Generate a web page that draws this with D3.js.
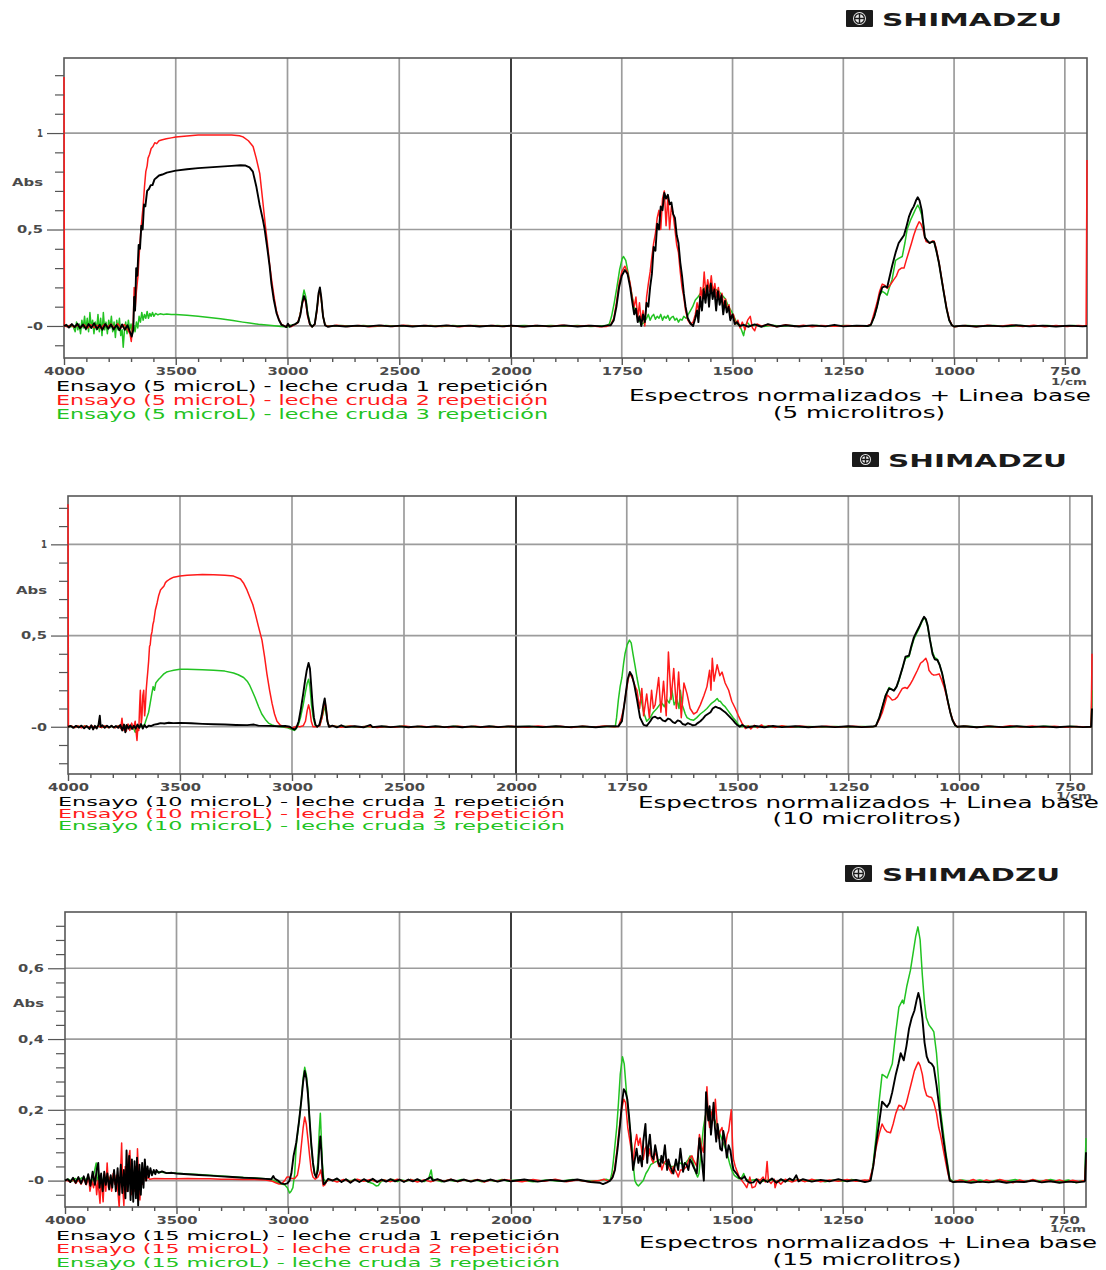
<!DOCTYPE html>
<html>
<head>
<meta charset="utf-8">
<script src="https://cdn.jsdelivr.net/npm/d3@7"></script>
<style>
  body { margin: 0; background: #fff; }
  svg { display: block; }
</style>
</head>
<body>
<svg id="chart" width="1106" height="1270"></svg>
<script>
// ---------------------------------------------------------------------------
// FTIR spectra, normalised + baseline corrected, [wavenumber (1/cm), Abs]
// ---------------------------------------------------------------------------

// ---- 5 microlitros ----
const p1BlackHigh = [
  [4000,0],[3990,0.006],[3978,-0.008],[3965,0.01],[3952,-0.006],[3940,0.012],[3928,-0.012],[3915,0.008],
  [3902,-0.015],[3890,0.01],[3878,-0.01],[3865,0.014],[3852,-0.016],[3840,0.006],[3828,-0.02],[3815,0.01],
  [3802,-0.014],[3790,0.008],[3778,-0.018],[3765,0.005],[3752,-0.022],[3740,0.008],[3728,-0.02],[3716,0.004],
  [3705,-0.03],[3697,-0.055],[3690,-0.02],[3686,0.15],[3682,0.08],[3677,0.3],[3672,0.26],[3666,0.42],
  [3660,0.4],[3654,0.52],[3648,0.5],[3642,0.63],[3636,0.62],[3628,0.7],[3620,0.71],[3612,0.73],[3604,0.73],
  [3595,0.76],[3585,0.77],[3575,0.78],[3560,0.785],[3540,0.795],[3520,0.8],[3500,0.805],[3450,0.812],
  [3400,0.818],[3350,0.822],[3300,0.826],[3250,0.83],[3210,0.833],[3190,0.832],[3170,0.822],[3155,0.8],
  [3139,0.72],[3125,0.63],[3110,0.55],[3102,0.5],[3090,0.4],[3080,0.31],[3072,0.22],[3062,0.14],[3049,0.066],
  [3038,0.03],[3027,0.006],[3015,0],[3005,-0.006],[2998,0.012],[2990,-0.004],[2978,0.004],[2965,0.01],
  [2952,0.02],[2942,0.06],[2934,0.12],[2926,0.155],[2918,0.13],[2910,0.06],[2900,0.01],[2890,-0.004],
  [2878,0.01],[2868,0.09],[2861,0.17],[2855,0.2],[2849,0.15],[2841,0.05],[2832,0.004],[2820,-0.004],
  [2790,0.002],[2740,-0.003],[2690,0.002],[2640,-0.002],[2590,0.003],[2540,-0.002],[2490,0.002],[2440,-0.003],
  [2390,0.002],[2340,-0.002],[2290,0.003],[2240,-0.002],[2190,0.002],[2140,-0.003],[2090,0.002],[2040,-0.002],[2000,0.002]
];
const p1BlackLow = [
  [1970,-0.003],[1940,0.002],[1910,-0.002],[1880,0.003],[1850,-0.003],[1820,0.002],[1795,-0.002],[1782,0.003],
  [1775,0.004],[1768,0.03],[1762,0.1],[1756,0.2],[1750,0.26],[1743,0.29],[1737,0.27],[1731,0.2],[1726,0.12],
  [1722,0.06],[1718,0.09],[1714,0.02],[1710,0.05],[1706,0.0],[1702,0.06],[1698,0.02],[1694,0.12],[1690,0.1],
  [1686,0.2],[1682,0.27],[1678,0.41],[1674,0.39],[1670,0.53],[1666,0.5],[1662,0.62],[1658,0.6],[1654,0.69],
  [1650,0.66],[1646,0.68],[1642,0.63],[1638,0.64],[1634,0.58],[1630,0.56],[1626,0.47],[1622,0.43],[1618,0.33],
  [1614,0.26],[1610,0.17],[1606,0.1],[1601,0.04],[1595,0.013],[1589,0.0],[1584,0.04],[1580,0.08],[1577,0.02],
  [1573,0.15],[1569,0.08],[1565,0.19],[1561,0.12],[1557,0.21],[1553,0.1],[1549,0.22],[1545,0.14],[1541,0.19],
  [1537,0.08],[1533,0.18],[1529,0.11],[1525,0.16],[1521,0.06],[1517,0.13],[1513,0.07],[1509,0.1],[1505,0.03],
  [1500,0.06],[1495,0.01],[1490,0.02],[1484,0.0],[1475,0.006],[1465,-0.004],[1450,0.008],[1435,-0.004],
  [1420,0.01],[1400,-0.003],[1380,0.004],[1350,-0.003],[1320,0.003],[1290,-0.002],[1270,0.006],[1250,-0.002],
  [1220,0.002],[1195,0],[1188,0.005],[1180,0.05],[1174,0.1],[1168,0.16],[1162,0.2],[1156,0.205],[1151,0.2],
  [1146,0.25],[1140,0.31],[1132,0.38],[1125,0.43],[1119,0.45],[1113,0.47],[1107,0.52],[1102,0.565],[1096,0.6],
  [1091,0.62],[1086,0.65],[1082,0.667],[1078,0.65],[1073,0.6],[1069,0.52],[1066,0.46],[1060,0.44],[1055,0.43],
  [1049,0.437],[1045,0.435],[1040,0.39],[1034,0.325],[1028,0.24],[1023,0.17],[1017,0.09],[1011,0.03],
  [1005,0.004],[1000,-0.003],[980,0.002],[950,-0.003],[920,0.002],[890,-0.002],[860,0.004],[830,-0.002],
  [800,0.002],[770,-0.003],[740,0.002],[710,-0.002],[700,0]
];
const p1RedHigh = [
  [4000,1.29],[3998,0.0],[3985,-0.004],[3970,0.006],[3955,-0.006],[3940,0.004],[3925,-0.008],[3910,0.006],
  [3895,-0.01],[3880,0.006],[3865,-0.008],[3850,0.004],[3835,-0.012],[3820,0.008],[3805,-0.006],[3790,0.01],
  [3775,-0.01],[3760,0.012],[3745,-0.01],[3730,0.008],[3715,-0.02],[3705,-0.04],[3699,-0.08],[3694,-0.01],
  [3690,0.02],[3686,0.2],[3682,0.08],[3676,0.18],[3669,0.26],[3663,0.38],[3657,0.48],[3651,0.56],[3646,0.62],
  [3640,0.72],[3634,0.8],[3628,0.83],[3624,0.87],[3617,0.89],[3610,0.92],[3602,0.93],[3594,0.95],[3585,0.945],
  [3575,0.96],[3560,0.965],[3542,0.97],[3520,0.975],[3500,0.98],[3450,0.985],[3400,0.99],[3350,0.99],
  [3300,0.99],[3250,0.99],[3215,0.986],[3199,0.98],[3175,0.96],[3154,0.93],[3140,0.87],[3124,0.79],[3110,0.64],
  [3100,0.53],[3090,0.43],[3080,0.32],[3070,0.23],[3060,0.15],[3050,0.08],[3040,0.04],[3028,0.01],[3015,0.0],
  [3005,-0.004],[2995,0.006],[2985,-0.004],[2970,0.006],[2955,0.015],[2945,0.05],[2935,0.11],[2926,0.15],
  [2918,0.12],[2910,0.05],[2900,0.008],[2890,-0.004],[2878,0.008],[2868,0.08],[2861,0.16],[2855,0.19],
  [2849,0.14],[2841,0.05],[2832,0.004],[2815,-0.003],[2780,0.004],[2730,-0.003],[2680,0.003],[2630,-0.004],
  [2580,0.002],[2530,-0.003],[2480,0.004],[2430,-0.002],[2380,0.003],[2330,-0.003],[2280,0.002],[2230,-0.004],
  [2180,0.003],[2130,-0.002],[2080,0.003],[2030,-0.003],[2000,0.002]
];
const p1RedLow = [
  [1975,-0.004],[1945,0.003],[1915,-0.003],[1885,0.004],[1855,-0.002],[1825,0.003],[1800,-0.004],[1785,-0.003],
  [1775,0.006],[1768,0.04],[1762,0.12],[1756,0.22],[1750,0.28],[1743,0.31],[1737,0.28],[1731,0.22],[1726,0.14],
  [1722,0.1],[1718,0.15],[1714,0.04],[1710,0.12],[1706,0.02],[1702,0.08],[1698,0.0],[1694,0.15],[1690,0.22],
  [1686,0.28],[1682,0.36],[1678,0.43],[1674,0.48],[1670,0.56],[1666,0.6],[1662,0.5],[1658,0.66],[1654,0.7],
  [1650,0.52],[1646,0.67],[1642,0.5],[1638,0.62],[1634,0.58],[1630,0.5],[1626,0.42],[1622,0.38],[1618,0.28],
  [1614,0.2],[1610,0.15],[1606,0.08],[1601,0.03],[1595,0.01],[1589,0.02],[1584,0.06],[1580,0.12],[1576,0.07],
  [1572,0.2],[1568,0.14],[1564,0.28],[1560,0.16],[1556,0.24],[1552,0.18],[1548,0.26],[1544,0.17],[1540,0.22],
  [1536,0.15],[1532,0.2],[1528,0.13],[1524,0.17],[1520,0.1],[1516,0.14],[1512,0.08],[1508,0.11],[1503,0.04],
  [1498,0.06],[1493,0.01],[1488,0.03],[1483,-0.01],[1478,0.02],[1472,-0.02],[1466,0.03],[1460,0.05],
  [1455,-0.01],[1450,-0.025],[1445,0.01],[1435,0.0],[1420,0.006],[1400,-0.004],[1380,0.006],[1360,-0.003],
  [1340,0.004],[1320,-0.004],[1300,0.003],[1270,-0.002],[1240,0.002],[1210,-0.002],[1195,0.002],[1188,0.006],
  [1180,0.07],[1174,0.12],[1168,0.18],[1162,0.217],[1156,0.21],[1151,0.195],[1145,0.21],[1136,0.24],
  [1130,0.26],[1125,0.29],[1119,0.3],[1113,0.3],[1108,0.34],[1102,0.385],[1096,0.43],[1091,0.47],[1085,0.51],
  [1079,0.54],[1075,0.53],[1070,0.5],[1066,0.46],[1063,0.437],[1055,0.43],[1049,0.44],[1045,0.44],[1040,0.4],
  [1034,0.33],[1028,0.245],[1023,0.175],[1017,0.095],[1011,0.035],[1005,0.005],[1000,-0.004],[975,0.003],
  [950,-0.004],[925,0.004],[900,-0.002],[870,0.005],[845,-0.003],[820,0.004],[795,-0.004],[770,0.003],
  [745,-0.003],[720,0.002],[702,0],[700,0.86]
];
const p1GreenHigh = [
  [4000,0],[3985,0.003],[3970,-0.004],[3960,0.0],[3950,-0.03],[3944,0.02],[3938,-0.02],[3932,0.01],[3926,-0.04],
  [3920,0.03],[3914,-0.01],[3908,0.05],[3902,-0.02],[3896,0.04],[3890,-0.03],[3884,0.07],[3878,-0.01],
  [3872,0.03],[3866,-0.04],[3860,0.02],[3854,-0.02],[3848,0.06],[3842,-0.03],[3836,0.04],[3830,-0.05],
  [3824,0.07],[3818,-0.02],[3812,0.02],[3806,-0.04],[3800,0.03],[3794,-0.01],[3788,0.05],[3782,-0.03],
  [3776,0.02],[3770,-0.06],[3764,0.03],[3758,-0.02],[3752,0.04],[3746,-0.05],[3740,-0.02],[3735,-0.11],
  [3730,-0.03],[3724,0.02],[3718,-0.04],[3712,0.03],[3706,-0.02],[3700,0.01],[3694,-0.04],[3688,0.0],
  [3682,-0.03],[3676,0.02],[3670,-0.01],[3664,0.05],[3658,0.02],[3652,0.07],[3646,0.03],[3640,0.06],
  [3634,0.04],[3628,0.075],[3622,0.04],[3616,0.065],[3610,0.05],[3604,0.07],[3598,0.05],[3590,0.065],
  [3580,0.058],[3570,0.063],[3555,0.06],[3540,0.062],[3520,0.06],[3500,0.06],[3450,0.055],[3400,0.05],
  [3350,0.044],[3300,0.038],[3244,0.028],[3200,0.02],[3170,0.015],[3130,0.009],[3094,0.005],[3060,0.001],
  [3030,-0.003],[3010,-0.004],[3000,-0.006],[2990,0.004],[2975,0.004],[2962,0.012],[2950,0.025],[2940,0.08],
  [2932,0.15],[2926,0.186],[2918,0.15],[2910,0.07],[2900,0.015],[2890,-0.005],[2878,0.01],[2868,0.09],
  [2861,0.16],[2855,0.185],[2849,0.14],[2841,0.05],[2832,0.004],[2810,-0.002],[2760,0.003],[2710,-0.002],
  [2660,0.002],[2610,-0.003],[2560,0.002],[2510,-0.002],[2460,0.003],[2410,-0.002],[2360,0.002],[2310,-0.003],
  [2260,0.002],[2210,-0.002],[2160,0.003],[2110,-0.002],[2060,0.002],[2010,-0.002],[2000,0.0]
];
const p1GreenLow = [
  [1970,0.002],[1940,-0.002],[1910,0.003],[1880,-0.002],[1850,0.002],[1820,-0.003],[1800,0.0],[1785,0.002],
  [1778,0.01],[1773,0.05],[1767,0.12],[1761,0.2],[1755,0.29],[1749,0.35],[1746,0.36],[1741,0.34],[1736,0.28],
  [1731,0.21],[1727,0.16],[1722,0.1],[1716,0.06],[1712,0.03],[1708,0.02],[1703,0.01],[1699,0.02],[1694,0.04],
  [1690,0.06],[1686,0.03],[1682,0.05],[1678,0.06],[1674,0.035],[1670,0.05],[1666,0.04],[1662,0.06],[1658,0.03],
  [1654,0.05],[1650,0.04],[1646,0.055],[1642,0.03],[1638,0.045],[1634,0.05],[1630,0.03],[1626,0.04],
  [1622,0.02],[1618,0.035],[1614,0.03],[1610,0.05],[1605,0.04],[1600,0.06],[1595,0.08],[1590,0.1],[1584,0.135],
  [1578,0.15],[1572,0.17],[1566,0.19],[1561,0.2],[1555,0.2],[1549,0.21],[1544,0.2],[1538,0.19],[1531,0.18],
  [1524,0.16],[1516,0.14],[1509,0.1],[1501,0.07],[1495,0.04],[1490,0.01],[1484,0.005],[1480,-0.02],
  [1475,-0.05],[1471,0.0],[1467,0.02],[1460,0.0],[1450,0.005],[1430,-0.003],[1410,0.004],[1390,-0.002],
  [1370,0.003],[1340,-0.002],[1310,0.002],[1280,-0.002],[1250,0.002],[1220,-0.002],[1195,0.0],[1188,0.004],
  [1180,0.05],[1174,0.1],[1168,0.16],[1162,0.18],[1156,0.17],[1151,0.16],[1146,0.2],[1140,0.24],[1132,0.34],
  [1125,0.35],[1117,0.36],[1111,0.43],[1106,0.5],[1098,0.55],[1091,0.585],[1086,0.61],[1082,0.627],
  [1078,0.61],[1073,0.575],[1069,0.52],[1066,0.46],[1060,0.44],[1055,0.43],[1049,0.437],[1045,0.435],
  [1040,0.39],[1034,0.325],[1028,0.24],[1023,0.17],[1017,0.09],[1011,0.03],[1005,0.004],[1000,-0.003],
  [970,0.002],[940,-0.002],[910,0.002],[880,-0.003],[850,0.002],[820,-0.002],[790,0.003],[760,-0.002],
  [730,0.002],[705,-0.002],[700,0]
];

// ---- 10 microlitros ----
const p2BlackHigh = [
  [4000,0],[3988,0.004],[3976,-0.006],[3964,0.005],[3952,-0.004],[3940,0.006],[3928,-0.008],[3916,0.004],
  [3904,-0.012],[3896,0.008],[3888,-0.015],[3880,0.005],[3872,-0.01],[3864,0.01],[3858,0.06],[3854,0.0],
  [3846,0.008],[3836,-0.006],[3826,0.006],[3816,-0.004],[3806,0.005],[3796,-0.004],[3786,0.004],[3776,-0.006],
  [3766,0.01],[3758,-0.02],[3750,0.012],[3744,-0.03],[3738,0.01],[3730,-0.01],[3722,0.008],[3714,-0.012],
  [3706,0.006],[3698,-0.01],[3690,0.012],[3682,-0.006],[3674,0.015],[3666,-0.01],[3658,0.01],[3650,-0.004],
  [3640,0.006],[3630,0.004],[3615,0.012],[3600,0.015],[3587,0.02],[3570,0.018],[3550,0.022],[3530,0.02],
  [3500,0.021],[3450,0.019],[3400,0.016],[3350,0.014],[3300,0.012],[3250,0.01],[3200,0.009],[3170,0.012],
  [3150,0.006],[3100,0.005],[3060,0.003],[3030,0.004],[3010,0.0],[2996,-0.012],[2988,-0.015],[2980,-0.005],
  [2970,0.03],[2960,0.1],[2950,0.18],[2942,0.25],[2934,0.31],[2926,0.35],[2920,0.32],[2914,0.22],[2908,0.12],
  [2902,0.05],[2895,0.01],[2888,0.0],[2878,0.01],[2868,0.06],[2860,0.12],[2854,0.155],[2848,0.1],[2842,0.03],
  [2835,0.0],[2820,0.006],[2800,-0.003],[2780,0.008],[2760,-0.002],[2720,0.003],[2680,-0.003],[2650,0.01],
  [2640,-0.002],[2600,0.003],[2560,-0.002],[2520,0.002],[2480,-0.003],[2440,0.002],[2400,-0.002],[2360,0.003],
  [2320,-0.002],[2280,0.002],[2240,-0.003],[2200,0.002],[2160,-0.002],[2120,0.003],[2080,-0.002],[2040,0.002],[2000,0.0]
];
const p2BlackLow = [
  [1970,0.002],[1940,-0.002],[1910,0.003],[1880,-0.002],[1850,0.002],[1820,-0.003],[1795,0.002],[1780,0.003],
  [1769,0.002],[1761,0.03],[1754,0.15],[1748,0.26],[1743,0.3],[1738,0.28],[1733,0.23],[1727,0.15],[1720,0.05],
  [1712,0.01],[1705,0.005],[1697,0.03],[1692,0.05],[1686,0.055],[1680,0.045],[1675,0.05],[1669,0.035],
  [1663,0.03],[1657,0.045],[1652,0.04],[1646,0.025],[1641,0.02],[1635,0.035],[1629,0.03],[1624,0.015],
  [1618,0.01],[1612,0.02],[1607,0.015],[1601,0.008],[1595,0.01],[1590,0.02],[1584,0.03],[1578,0.045],
  [1573,0.06],[1567,0.07],[1561,0.08],[1556,0.1],[1550,0.11],[1545,0.105],[1539,0.1],[1534,0.09],[1528,0.08],
  [1522,0.065],[1516,0.05],[1510,0.035],[1505,0.02],[1500,0.008],[1495,0.0],[1490,0.01],[1480,-0.004],
  [1460,0.004],[1440,-0.003],[1420,0.004],[1400,-0.002],[1370,0.003],[1340,-0.003],[1310,0.002],[1280,-0.002],
  [1250,0.003],[1220,-0.002],[1195,0.001],[1188,0.004],[1180,0.05],[1173,0.11],[1166,0.17],[1158,0.21],
  [1152,0.205],[1147,0.197],[1141,0.22],[1136,0.256],[1128,0.32],[1121,0.384],[1113,0.39],[1108,0.44],
  [1102,0.49],[1096,0.52],[1090,0.548],[1084,0.58],[1079,0.603],[1075,0.59],[1071,0.557],[1066,0.48],
  [1060,0.4],[1055,0.37],[1049,0.366],[1044,0.34],[1038,0.29],[1032,0.22],[1026,0.146],[1020,0.08],
  [1015,0.037],[1009,0.008],[1004,0.0],[990,0.003],[960,-0.003],[930,0.002],[900,-0.002],[870,0.003],
  [840,-0.002],[810,0.002],[780,-0.003],[750,0.002],[720,-0.002],[702,0],[700,0.1]
];
const p2RedHigh = [
  [4000,1.22],[3998,0.0],[3985,0.004],[3970,-0.005],[3955,0.004],[3940,-0.006],[3925,0.005],[3910,-0.004],
  [3895,0.006],[3880,-0.006],[3865,0.004],[3850,-0.004],[3835,0.005],[3820,-0.005],[3805,0.004],[3790,-0.006],
  [3775,0.005],[3765,-0.01],[3759,0.047],[3754,-0.02],[3748,0.01],[3740,-0.025],[3732,0.015],[3724,-0.02],
  [3716,0.02],[3708,-0.01],[3700,0.03],[3695,-0.04],[3692,-0.075],[3688,0.0],[3684,-0.02],[3680,0.12],
  [3677,0.2],[3673,0.02],[3670,0.05],[3666,0.17],[3662,0.2],[3658,0.06],[3655,0.1],[3651,0.2],[3647,0.26],
  [3644,0.3],[3640,0.36],[3636,0.44],[3633,0.45],[3629,0.5],[3625,0.52],[3621,0.56],[3617,0.58],[3610,0.64],
  [3602,0.68],[3595,0.72],[3587,0.75],[3580,0.76],[3572,0.77],[3565,0.79],[3557,0.8],[3545,0.81],[3528,0.82],
  [3500,0.826],[3468,0.83],[3400,0.835],[3350,0.833],[3300,0.83],[3261,0.826],[3230,0.81],[3215,0.785],
  [3201,0.75],[3185,0.7],[3175,0.67],[3164,0.62],[3150,0.55],[3134,0.475],[3122,0.38],[3112,0.29],[3100,0.2],
  [3089,0.128],[3078,0.07],[3067,0.03],[3055,0.012],[3045,0.005],[3030,0.0],[3010,-0.004],[2995,-0.006],
  [2980,0.003],[2965,0.0],[2950,0.005],[2940,0.03],[2932,0.09],[2926,0.12],[2920,0.09],[2914,0.03],[2906,0.0],
  [2890,0.0],[2876,0.005],[2866,0.05],[2858,0.11],[2853,0.14],[2847,0.09],[2840,0.02],[2832,0.0],[2815,0.004],
  [2780,-0.003],[2740,0.004],[2700,-0.002],[2660,0.003],[2620,-0.004],[2580,0.002],[2540,-0.003],[2500,0.004],
  [2460,-0.002],[2420,0.003],[2380,-0.003],[2340,0.002],[2300,-0.004],[2260,0.003],[2220,-0.002],[2180,0.003],
  [2140,-0.003],[2100,0.002],[2060,-0.002],[2020,0.003],[2000,0.0]
];
const p2RedLow = [
  [1975,-0.003],[1950,0.004],[1925,-0.002],[1900,0.003],[1875,-0.004],[1850,0.003],[1825,-0.002],[1800,0.004],
  [1780,0.0],[1769,0.002],[1762,0.05],[1757,0.1],[1751,0.2],[1746,0.27],[1743,0.29],[1738,0.27],[1735,0.25],
  [1731,0.22],[1727,0.2],[1721,0.1],[1716,0.21],[1712,0.06],[1705,0.18],[1699,0.05],[1694,0.2],[1690,0.1],
  [1686,0.12],[1678,0.27],[1673,0.08],[1667,0.25],[1661,0.06],[1656,0.41],[1650,0.15],[1644,0.32],[1638,0.1],
  [1633,0.3],[1627,0.05],[1621,0.24],[1614,0.18],[1607,0.1],[1599,0.07],[1592,0.08],[1584,0.12],[1576,0.17],
  [1569,0.22],[1563,0.31],[1560,0.2],[1557,0.375],[1553,0.25],[1546,0.34],[1540,0.28],[1535,0.3],[1528,0.24],
  [1520,0.2],[1513,0.14],[1505,0.1],[1498,0.06],[1490,0.02],[1482,-0.01],[1476,0.005],[1470,-0.012],
  [1462,0.008],[1455,-0.006],[1446,0.01],[1438,-0.004],[1430,0.006],[1415,-0.004],[1400,0.005],[1380,-0.003],
  [1360,0.004],[1330,-0.003],[1300,0.003],[1270,-0.002],[1240,0.003],[1210,-0.002],[1193,0.002],[1188,0.004],
  [1180,0.04],[1173,0.08],[1167,0.13],[1162,0.174],[1156,0.16],[1151,0.146],[1145,0.15],[1139,0.164],
  [1133,0.19],[1128,0.21],[1122,0.215],[1117,0.21],[1111,0.23],[1105,0.256],[1100,0.28],[1094,0.31],
  [1087,0.348],[1081,0.36],[1075,0.375],[1071,0.35],[1068,0.31],[1062,0.29],[1057,0.283],[1051,0.285],
  [1045,0.29],[1040,0.26],[1034,0.22],[1028,0.165],[1023,0.11],[1018,0.065],[1013,0.03],[1008,0.01],[1004,0.0],
  [985,0.003],[960,-0.004],[935,0.004],[910,-0.003],[885,0.005],[860,-0.002],[835,0.004],[810,-0.003],
  [785,0.003],[760,-0.003],[735,0.002],[710,-0.002],[702,0],[700,0.4]
];
const p2GreenHigh = [
  [4000,0],[3985,0.003],[3970,-0.004],[3955,0.003],[3940,-0.003],[3925,0.004],[3910,-0.004],[3895,0.003],
  [3880,-0.003],[3865,0.004],[3850,-0.004],[3835,0.003],[3820,-0.004],[3805,0.003],[3790,-0.005],[3775,0.004],
  [3760,-0.006],[3745,0.005],[3730,-0.008],[3715,0.004],[3705,-0.015],[3700,-0.03],[3695,-0.01],[3688,0.005],
  [3680,-0.005],[3672,0.01],[3664,0.0],[3656,0.02],[3648,0.05],[3640,0.08],[3633,0.13],[3626,0.18],[3620,0.22],
  [3614,0.2],[3608,0.24],[3602,0.25],[3595,0.26],[3587,0.27],[3580,0.28],[3572,0.29],[3560,0.3],[3545,0.305],
  [3528,0.31],[3500,0.315],[3468,0.315],[3400,0.312],[3350,0.31],[3300,0.305],[3261,0.295],[3240,0.285],
  [3216,0.27],[3200,0.25],[3190,0.23],[3179,0.2],[3165,0.16],[3149,0.11],[3135,0.07],[3119,0.04],[3105,0.02],
  [3089,0.01],[3070,0.003],[3050,0.0],[3020,-0.006],[3000,-0.015],[2990,-0.02],[2982,-0.012],[2972,0.01],
  [2962,0.05],[2950,0.12],[2940,0.19],[2932,0.24],[2926,0.26],[2920,0.22],[2913,0.12],[2905,0.05],[2897,0.01],
  [2888,0.0],[2876,0.01],[2866,0.05],[2858,0.09],[2853,0.11],[2847,0.07],[2840,0.02],[2832,0.0],[2815,0.004],
  [2790,0.0],[2750,0.003],[2710,-0.002],[2670,0.002],[2630,-0.003],[2590,0.002],[2550,-0.002],[2510,0.003],
  [2470,-0.002],[2430,0.002],[2390,-0.003],[2350,0.002],[2310,-0.002],[2270,0.003],[2230,-0.002],[2190,0.002],
  [2150,-0.003],[2110,0.002],[2070,-0.002],[2030,0.002],[2000,0.0]
];
const p2GreenLow = [
  [1970,0.002],[1940,-0.002],[1910,0.002],[1880,-0.003],[1850,0.002],[1820,-0.002],[1795,0.003],[1785,0.002],
  [1776,0.0],[1773,0.05],[1769,0.146],[1765,0.22],[1761,0.27],[1757,0.35],[1754,0.4],[1749,0.45],[1744,0.475],
  [1740,0.46],[1736,0.4],[1731,0.33],[1727,0.27],[1720,0.18],[1712,0.08],[1705,0.03],[1697,0.05],[1690,0.08],
  [1682,0.1],[1676,0.12],[1671,0.13],[1665,0.11],[1660,0.15],[1654,0.13],[1648,0.2],[1643,0.12],[1637,0.15],
  [1632,0.1],[1629,0.2],[1625,0.12],[1622,0.1],[1618,0.07],[1614,0.05],[1607,0.04],[1599,0.036],[1592,0.05],
  [1584,0.07],[1576,0.085],[1569,0.1],[1562,0.12],[1558,0.13],[1552,0.14],[1546,0.155],[1542,0.14],
  [1539,0.14],[1533,0.12],[1528,0.11],[1522,0.09],[1516,0.07],[1510,0.05],[1505,0.036],[1498,0.01],[1490,0.0],
  [1480,0.004],[1460,-0.002],[1440,0.003],[1420,-0.002],[1400,0.003],[1370,-0.002],[1340,0.002],[1310,-0.002],
  [1280,0.002],[1250,-0.002],[1220,0.002],[1195,0.0],[1188,0.004],[1180,0.05],[1173,0.11],[1166,0.17],
  [1158,0.215],[1152,0.205],[1147,0.2],[1141,0.22],[1136,0.25],[1128,0.32],[1121,0.375],[1113,0.385],
  [1108,0.43],[1102,0.48],[1096,0.51],[1090,0.54],[1084,0.575],[1079,0.598],[1075,0.585],[1071,0.55],
  [1066,0.48],[1060,0.41],[1055,0.38],[1049,0.37],[1044,0.34],[1038,0.29],[1032,0.22],[1026,0.15],
  [1020,0.082],[1015,0.038],[1009,0.008],[1004,0.0],[985,0.003],[955,-0.002],[925,0.002],[895,-0.003],
  [865,0.002],[835,-0.002],[805,0.003],[775,-0.002],[745,0.002],[715,-0.002],[702,0],[700,0.2]
];

// ---- 15 microlitros ----
const p3BlackHigh = [
  [4000,0],[3988,0.004],[3976,-0.004],[3964,0.008],[3952,-0.006],[3940,0.01],[3928,-0.008],[3916,0.012],
  [3906,-0.01],[3896,0.018],[3886,-0.015],[3876,0.025],[3866,-0.012],[3858,0.03],[3851,0.05],[3845,-0.02],
  [3838,0.02],[3831,-0.03],[3824,0.025],[3817,-0.012],[3810,0.02],[3802,-0.025],[3795,0.015],[3788,-0.02],
  [3780,0.03],[3772,-0.03],[3764,0.035],[3757,-0.04],[3750,0.045],[3743,-0.035],[3736,0.03],[3729,-0.05],
  [3724,0.085],[3718,-0.03],[3712,0.07],[3706,-0.055],[3700,0.06],[3694,-0.06],[3688,0.055],[3682,-0.05],
  [3677,0.065],[3672,-0.07],[3666,0.045],[3660,-0.04],[3654,0.05],[3648,-0.02],[3642,0.06],[3636,0.0],
  [3630,0.04],[3624,0.01],[3617,0.035],[3610,0.015],[3602,0.03],[3595,0.018],[3590,0.03],[3580,0.022],
  [3565,0.026],[3545,0.021],[3520,0.022],[3500,0.02],[3450,0.018],[3400,0.016],[3350,0.014],[3300,0.012],
  [3250,0.01],[3200,0.008],[3150,0.007],[3100,0.005],[3075,0.004],[3066,0.013],[3060,0.006],[3045,0.0],
  [3030,-0.008],[3015,-0.01],[3003,-0.008],[2993,0.0],[2985,0.02],[2975,0.07],[2963,0.107],[2950,0.17],
  [2940,0.228],[2932,0.28],[2925,0.31],[2918,0.29],[2911,0.247],[2903,0.17],[2896,0.107],[2888,0.05],
  [2881,0.02],[2874,0.01],[2866,0.03],[2860,0.09],[2855,0.125],[2850,0.08],[2845,0.02],[2840,-0.01],
  [2832,-0.006],[2820,0.005],[2800,0.0],[2780,0.006],[2760,-0.004],[2740,0.004],[2720,-0.006],[2700,0.003],
  [2680,-0.004],[2660,0.004],[2640,-0.003],[2620,0.005],[2600,-0.004],[2580,0.003],[2560,-0.003],[2540,0.004],
  [2520,-0.002],[2500,0.003],[2480,-0.004],[2460,0.003],[2440,-0.002],[2420,0.004],[2400,-0.003],[2380,0.003],
  [2360,0.01],[2350,0.0],[2330,0.004],[2300,-0.003],[2270,0.003],[2240,-0.002],[2210,0.003],[2180,-0.003],
  [2150,0.002],[2120,-0.002],[2090,0.003],[2060,-0.003],[2030,0.002],[2000,-0.002]
];
const p3BlackLow = [
  [1970,0.003],[1940,-0.003],[1910,0.002],[1880,-0.002],[1850,0.003],[1820,-0.004],[1800,-0.006],[1792,-0.01],
  [1784,-0.006],[1776,0.0],[1770,0.01],[1765,0.03],[1759,0.09],[1754,0.15],[1749,0.22],[1745,0.258],
  [1741,0.25],[1737,0.23],[1733,0.18],[1729,0.12],[1727,0.082],[1724,0.03],[1720,0.06],[1716,0.09],
  [1712,0.05],[1708,0.07],[1704,0.04],[1701,0.11],[1696,0.16],[1692,0.05],[1689,0.1],[1686,0.13],[1682,0.07],
  [1678,0.06],[1674,0.1],[1671,0.08],[1667,0.05],[1663,0.04],[1660,0.07],[1657,0.05],[1652,0.1],[1647,0.03],
  [1644,0.06],[1641,0.045],[1637,0.03],[1633,0.02],[1627,0.06],[1622,0.03],[1617,0.09],[1611,0.025],
  [1607,0.05],[1603,0.045],[1599,0.03],[1595,0.06],[1591,0.05],[1588,0.04],[1584,0.03],[1580,0.02],
  [1574,0.12],[1569,0.065],[1564,0.0],[1561,0.15],[1559,0.25],[1554,0.17],[1551,0.21],[1548,0.13],
  [1545,0.17],[1542,0.22],[1539,0.15],[1536,0.11],[1533,0.16],[1531,0.14],[1527,0.09],[1523,0.085],
  [1520,0.14],[1517,0.12],[1512,0.065],[1508,0.1],[1504,0.085],[1500,0.05],[1497,0.03],[1490,0.02],
  [1484,0.008],[1478,0.005],[1472,0.012],[1467,0.0],[1460,-0.006],[1452,-0.005],[1445,0.004],[1437,-0.008],
  [1430,0.003],[1420,-0.004],[1410,0.006],[1400,-0.006],[1390,0.004],[1380,-0.003],[1370,0.006],[1362,0.0],
  [1355,0.015],[1350,-0.002],[1340,0.004],[1320,-0.003],[1300,0.002],[1280,-0.002],[1260,0.004],[1240,-0.002],
  [1220,0.002],[1200,-0.004],[1192,-0.002],[1187,0.0],[1181,0.04],[1175,0.1],[1168,0.16],[1161,0.223],
  [1155,0.215],[1150,0.208],[1144,0.22],[1138,0.25],[1130,0.3],[1124,0.33],[1119,0.36],[1112,0.34],
  [1106,0.38],[1100,0.43],[1094,0.46],[1088,0.48],[1083,0.51],[1079,0.53],[1075,0.51],[1070,0.46],[1065,0.39],
  [1060,0.35],[1055,0.335],[1049,0.33],[1044,0.32],[1038,0.27],[1033,0.22],[1029,0.18],[1023,0.12],
  [1017,0.07],[1012,0.03],[1008,0.0],[1000,-0.004],[980,-0.003],[960,-0.006],[940,-0.003],[920,-0.005],
  [900,-0.002],[880,-0.006],[860,-0.003],[840,-0.004],[820,0.0],[800,-0.005],[780,-0.002],[760,-0.006],
  [740,-0.003],[720,-0.005],[704,-0.003],[702,0.0],[700,0.08]
];
const p3RedHigh = [
  [4000,0],[3988,0.0],[3976,-0.004],[3964,0.004],[3952,-0.008],[3940,0.002],[3928,-0.01],[3916,0.006],
  [3904,-0.012],[3894,0.01],[3888,-0.03],[3880,0.0],[3872,-0.02],[3864,0.012],[3858,-0.04],[3852,0.0],
  [3843,-0.064],[3838,0.01],[3829,-0.06],[3823,0.02],[3817,-0.03],[3811,0.05],[3805,-0.02],[3798,0.01],
  [3791,-0.03],[3784,0.02],[3777,-0.01],[3770,0.015],[3763,-0.03],[3757,-0.075],[3751,0.02],[3746,0.106],
  [3741,-0.02],[3736,-0.07],[3730,0.04],[3724,-0.03],[3716,0.06],[3709,0.085],[3703,-0.04],[3697,0.03],
  [3690,-0.03],[3684,0.04],[3678,0.0],[3675,0.09],[3670,0.01],[3664,-0.055],[3658,0.02],[3652,-0.01],
  [3645,0.015],[3638,0.0],[3630,0.01],[3620,0.004],[3600,0.006],[3550,0.005],[3500,0.005],[3450,0.006],
  [3400,0.005],[3350,0.005],[3300,0.004],[3250,0.004],[3200,0.003],[3150,0.003],[3100,0.002],[3070,-0.002],
  [3055,-0.006],[3040,-0.01],[3028,-0.008],[3015,0.0],[3005,0.01],[2995,0.01],[2985,0.006],[2970,0.006],
  [2958,0.015],[2948,0.05],[2940,0.1],[2932,0.15],[2925,0.18],[2918,0.16],[2911,0.12],[2903,0.07],[2896,0.03],
  [2888,0.01],[2878,0.004],[2866,0.01],[2858,0.02],[2853,0.03],[2848,0.01],[2842,-0.015],[2835,-0.012],
  [2825,0.0],[2810,0.003],[2780,-0.004],[2750,0.003],[2720,-0.003],[2690,0.004],[2660,-0.002],[2630,0.003],
  [2600,-0.004],[2570,0.002],[2540,-0.003],[2510,0.004],[2480,-0.002],[2450,0.003],[2420,-0.004],[2390,0.002],
  [2360,-0.003],[2330,0.003],[2300,-0.002],[2270,0.004],[2240,-0.003],[2210,0.002],[2180,-0.002],[2150,0.003],
  [2120,-0.004],[2090,0.002],[2060,-0.002],[2030,0.003],[2000,0.0]
];
const p3RedLow = [
  [1975,-0.003],[1950,0.003],[1925,-0.002],[1900,0.004],[1875,-0.003],[1850,0.002],[1825,-0.003],[1800,0.0],
  [1790,0.004],[1780,-0.002],[1772,0.005],[1766,0.03],[1760,0.09],[1755,0.15],[1750,0.2],[1745,0.23],
  [1741,0.22],[1736,0.15],[1731,0.11],[1727,0.08],[1724,0.05],[1720,0.1],[1716,0.13],[1712,0.1],[1708,0.12],
  [1704,0.08],[1701,0.06],[1697,0.09],[1693,0.1],[1689,0.07],[1686,0.09],[1682,0.06],[1678,0.05],[1675,0.08],
  [1671,0.07],[1666,0.04],[1662,0.05],[1659,0.03],[1654,0.05],[1648,0.06],[1643,0.035],[1637,0.02],
  [1633,0.04],[1629,0.03],[1625,0.02],[1622,0.01],[1617,0.03],[1611,0.03],[1607,0.035],[1603,0.04],
  [1599,0.055],[1595,0.065],[1591,0.07],[1588,0.06],[1584,0.05],[1580,0.04],[1577,0.08],[1574,0.13],
  [1570,0.1],[1565,0.08],[1561,0.15],[1557,0.265],[1554,0.18],[1551,0.15],[1547,0.19],[1544,0.2],[1541,0.17],
  [1538,0.23],[1534,0.16],[1531,0.12],[1527,0.14],[1523,0.15],[1519,0.12],[1515,0.1],[1511,0.13],[1508,0.14],
  [1505,0.17],[1502,0.2],[1499,0.1],[1497,0.06],[1493,0.04],[1490,0.03],[1484,0.01],[1478,0.0],[1472,-0.01],
  [1467,-0.02],[1462,0.0],[1460,0.01],[1455,-0.02],[1448,-0.017],[1442,0.004],[1437,0.0],[1430,0.01],
  [1425,-0.004],[1421,0.054],[1418,0.0],[1412,-0.008],[1405,0.004],[1403,-0.02],[1398,0.0],[1390,-0.01],
  [1380,0.004],[1365,-0.004],[1350,0.003],[1335,-0.003],[1320,0.004],[1300,-0.003],[1280,0.002],[1260,-0.002],
  [1240,0.003],[1220,-0.002],[1200,0.002],[1190,0.0],[1181,0.04],[1175,0.09],[1168,0.13],[1161,0.16],
  [1155,0.145],[1150,0.138],[1142,0.135],[1136,0.16],[1130,0.19],[1123,0.213],[1117,0.21],[1112,0.2],
  [1106,0.22],[1100,0.25],[1094,0.28],[1088,0.31],[1083,0.325],[1079,0.335],[1075,0.325],[1070,0.3],
  [1065,0.26],[1060,0.24],[1055,0.237],[1049,0.235],[1044,0.22],[1038,0.19],[1033,0.15],[1029,0.13],
  [1023,0.09],[1017,0.05],[1012,0.02],[1008,0.0],[1000,-0.004],[985,0.002],[970,-0.004],[955,0.003],
  [940,-0.005],[925,0.002],[910,-0.004],[895,0.003],[880,-0.002],[865,-0.006],[850,0.002],[835,-0.003],
  [820,0.003],[805,-0.004],[790,0.002],[775,-0.003],[760,0.002],[745,-0.004],[730,0.001],[715,-0.003],
  [703,0.0],[700,0.06]
];
const p3GreenHigh = [
  [4000,0],[3985,0.004],[3970,-0.002],[3955,0.006],[3940,0.0],[3925,0.008],[3910,0.002],[3895,0.01],
  [3880,-0.01],[3870,0.02],[3860,0.05],[3855,0.0],[3845,0.015],[3835,-0.01],[3825,0.012],[3815,0.0],
  [3805,0.01],[3795,-0.005],[3785,0.012],[3775,0.0],[3765,0.015],[3755,0.003],[3745,0.018],[3735,0.005],
  [3725,0.02],[3715,0.008],[3705,0.02],[3695,0.01],[3685,0.022],[3675,0.012],[3665,0.025],[3655,0.015],
  [3645,0.025],[3635,0.018],[3620,0.025],[3600,0.022],[3580,0.025],[3550,0.022],[3500,0.021],[3450,0.019],
  [3400,0.017],[3350,0.015],[3300,0.013],[3250,0.011],[3200,0.009],[3150,0.007],[3100,0.005],[3070,0.002],
  [3050,-0.004],[3030,-0.01],[3015,-0.012],[3003,-0.02],[2993,-0.035],[2986,-0.03],[2978,-0.02],[2970,0.02],
  [2963,0.1],[2950,0.17],[2940,0.23],[2932,0.29],[2925,0.32],[2918,0.3],[2911,0.26],[2903,0.17],[2896,0.1],
  [2888,0.05],[2881,0.02],[2874,0.01],[2866,0.05],[2860,0.14],[2855,0.19],[2850,0.11],[2846,0.05],[2840,0.005],
  [2830,-0.004],[2815,0.003],[2800,0.0],[2780,0.004],[2760,-0.003],[2740,0.003],[2720,-0.002],[2700,0.004],
  [2680,-0.003],[2660,0.002],[2640,-0.004],[2620,-0.008],[2605,-0.015],[2595,-0.014],[2585,-0.004],
  [2570,0.002],[2550,-0.002],[2530,0.003],[2510,-0.003],[2490,0.002],[2470,-0.002],[2450,0.003],[2430,-0.002],
  [2410,0.002],[2390,-0.003],[2370,0.004],[2358,0.03],[2352,0.005],[2340,0.002],[2310,-0.003],[2280,0.002],
  [2250,-0.002],[2220,0.003],[2190,-0.002],[2160,0.002],[2130,-0.003],[2100,0.002],[2070,-0.002],[2040,0.003],
  [2010,-0.002],[2000,0.0]
];
const p3GreenLow = [
  [1980,0.002],[1950,-0.003],[1920,0.002],[1890,-0.002],[1860,0.003],[1830,-0.002],[1800,0.0],[1785,0.004],
  [1776,0.0],[1772,0.02],[1769,0.05],[1765,0.1],[1761,0.15],[1757,0.22],[1753,0.3],[1748,0.35],[1744,0.33],
  [1739,0.25],[1733,0.17],[1727,0.1],[1724,0.05],[1720,0.0],[1716,-0.01],[1712,-0.015],[1707,-0.008],
  [1701,0.0],[1695,0.02],[1690,0.03],[1684,0.045],[1678,0.05],[1670,0.055],[1663,0.06],[1655,0.05],
  [1648,0.045],[1640,0.04],[1632,0.04],[1625,0.045],[1618,0.05],[1611,0.045],[1605,0.05],[1599,0.06],
  [1595,0.07],[1590,0.06],[1586,0.04],[1582,0.02],[1578,0.01],[1575,0.02],[1572,0.06],[1569,0.1],[1565,0.15],
  [1561,0.18],[1557,0.2],[1552,0.2],[1547,0.19],[1542,0.18],[1536,0.16],[1530,0.14],[1524,0.12],[1518,0.1],
  [1512,0.08],[1506,0.05],[1501,0.03],[1495,0.015],[1490,0.01],[1484,0.005],[1478,0.01],[1474,0.02],
  [1470,0.005],[1460,0.0],[1445,0.003],[1430,-0.002],[1415,0.003],[1400,-0.003],[1385,0.002],[1370,-0.002],
  [1350,0.003],[1330,-0.002],[1310,0.002],[1290,-0.003],[1270,0.002],[1250,-0.002],[1230,0.003],[1210,-0.002],
  [1195,0.0],[1187,0.002],[1181,0.05],[1175,0.12],[1168,0.22],[1161,0.3],[1155,0.295],[1150,0.29],
  [1144,0.31],[1138,0.33],[1130,0.42],[1123,0.49],[1115,0.51],[1112,0.5],[1105,0.55],[1097,0.594],
  [1090,0.65],[1085,0.69],[1080,0.717],[1075,0.68],[1070,0.58],[1065,0.5],[1061,0.46],[1055,0.44],
  [1049,0.43],[1044,0.42],[1038,0.36],[1033,0.28],[1029,0.2],[1023,0.14],[1017,0.08],[1012,0.04],
  [1008,0.005],[1000,-0.003],[980,0.002],[960,-0.003],[940,0.002],[920,-0.004],[900,0.002],[880,-0.002],
  [860,0.003],[840,-0.003],[820,0.002],[800,-0.002],[780,0.003],[760,-0.003],[740,0.002],[722,-0.006],
  [715,-0.002],[703,0.0],[700,0.12]
];

// ---- axis ticks and texts ----
const xTickValues = [4000, 3500, 3000, 2500, 2000, 1750, 1500, 1250, 1000, 750];
const xGridValues = [3500, 3000, 2500, 2000, 1750, 1500, 1250, 1000, 750];
const yTicks5 = [0, 0.5, 1];
const yTicks10 = [0, 0.5, 1];
const yTicks15 = [0, 0.2, 0.4, 0.6];
const seriesColors = ["#000000", "#ff1a1a", "#22c322"];
const legend5 = [
  "Ensayo (5 microL) - leche cruda 1 repetición",
  "Ensayo (5 microL) - leche cruda 2 repetición",
  "Ensayo (5 microL) - leche cruda 3 repetición"
];
const legend10 = [
  "Ensayo (10 microL) - leche cruda 1 repetición",
  "Ensayo (10 microL) - leche cruda 2 repetición",
  "Ensayo (10 microL) - leche cruda 3 repetición"
];
const legend15 = [
  "Ensayo (15 microL) - leche cruda 1 repetición",
  "Ensayo (15 microL) - leche cruda 2 repetición",
  "Ensayo (15 microL) - leche cruda 3 repetición"
];
const titleText = "Espectros normalizados + Linea base";
const subtitles = ["(5 microlitros)", "(10 microlitros)", "(15 microlitros)"];

// ---- panel layout ----
const panels = [
  {
    id: 1, xLeft: 64, xBreak: 511, xRight: 1087, top: 58, bottom: 358,
    yMin: -0.166, yMax: 1.389, yTicks: yTicks5, yMinorStep: 0.1, yMinorFrom: -1, yMinorTo: 13, absAt: 0.746,
    series: [[p1BlackHigh, p1BlackLow], [p1RedHigh, p1RedLow], [p1GreenHigh, p1GreenLow]],
    legend: legend5, legendX: 56, legendY: [391, 405, 419], legendSize: 14, legendW: 492,
    titleX: 629, titleY: 401, titleW: 462, subX: 859, subY: 418, subW: 172, unitDy: 27,
    logo: { x: 846, y: 10, h: 17, tx: 882, ty: 25.5, tw: 180 }
  },
  {
    id: 2, xLeft: 68, xBreak: 516, xRight: 1092, top: 496, bottom: 774,
    yMin: -0.259, yMax: 1.265, yTicks: yTicks10, yMinorStep: 0.1, yMinorFrom: -2, yMinorTo: 12, absAt: 0.75,
    series: [[p2BlackHigh, p2BlackLow], [p2RedHigh, p2RedLow], [p2GreenHigh, p2GreenLow]],
    legend: legend10, legendX: 58, legendY: [806, 818, 830], legendSize: 13, legendW: 507,
    titleX: 638, titleY: 808, titleW: 461, subX: 867, subY: 824, subW: 189, unitDy: 25,
    logo: { x: 852, y: 452, h: 15, tx: 888, ty: 467, tw: 179 }
  },
  {
    id: 3, xLeft: 65, xBreak: 511, xRight: 1086, top: 912, bottom: 1207,
    yMin: -0.0746, yMax: 0.759, yTicks: yTicks15, yMinorStep: 0.04, yMinorFrom: -1, yMinorTo: 18, absAt: 0.5,
    series: [[p3BlackHigh, p3BlackLow], [p3RedHigh, p3RedLow], [p3GreenHigh, p3GreenLow]],
    legend: legend15, legendX: 56, legendY: [1240, 1253, 1267], legendSize: 13, legendW: 504,
    titleX: 639, titleY: 1248, titleW: 458, subX: 867, subY: 1265, subW: 189, unitDy: 25,
    logo: { x: 845, y: 865, h: 17, tx: 882, ty: 881, tw: 178 }
  }
];

const svg = d3.select("#chart");
const labelFont = "'DejaVu Sans', Verdana, sans-serif";
const labelWidth = { "1": 6, "-0": 16, "Abs": 31 };

function yLabel(v) {
  if (v === 0) return "-0";
  return String(v).replace(".", ",");
}

function drawPanel(p) {
  const g = svg.append("g").attr("class", "panel-" + p.id);
  const x = d3.scaleLinear().domain([4000, 2000, 700]).range([p.xLeft, p.xBreak, p.xRight]);
  const y = d3.scaleLinear().domain([p.yMin, p.yMax]).range([p.bottom, p.top]);

  // grid
  g.append("g").selectAll("line").data(xGridValues).join("line")
    .attr("x1", d => x(d)).attr("x2", d => x(d))
    .attr("y1", p.top).attr("y2", p.bottom)
    .attr("stroke", d => d === 2000 ? "#3c3c3c" : "#9c9c9c")
    .attr("stroke-width", d => d === 2000 ? 2 : 1.7);
  g.append("g").selectAll("line").data(p.yTicks).join("line")
    .attr("x1", p.xLeft).attr("x2", p.xRight)
    .attr("y1", d => y(d)).attr("y2", d => y(d))
    .attr("stroke", "#9c9c9c").attr("stroke-width", 1.7);

  // frame (drawn under the spectra so edge spikes stay visible)
  g.append("rect")
    .attr("x", p.xLeft).attr("y", p.top)
    .attr("width", p.xRight - p.xLeft).attr("height", p.bottom - p.top)
    .attr("fill", "none").attr("stroke", "#585858").attr("stroke-width", 1.6);

  // spectra
  const clipId = "plot-clip-" + p.id;
  g.append("clipPath").attr("id", clipId).append("rect")
    .attr("x", p.xLeft - 1).attr("y", p.top)
    .attr("width", p.xRight - p.xLeft + 3).attr("height", p.bottom - p.top);
  const line = d3.line().x(d => x(d[0])).y(d => y(d[1]));
  const order = [2, 1, 0];
  const widths = [1.9, 1.5, 1.5];
  order.forEach(i => {
    const pts = p.series[i][0].concat(p.series[i][1]);
    g.append("path")
      .attr("d", line(pts))
      .attr("fill", "none")
      .attr("stroke", seriesColors[i])
      .attr("stroke-width", widths[i])
      .attr("stroke-linejoin", "round")
      .attr("clip-path", `url(#${clipId})`);
  });

  // y axis: minor ticks, major ticks and labels
  const yMinor = d3.range(p.yMinorFrom, p.yMinorTo + 1).map(i => +(i * p.yMinorStep).toFixed(3))
    .filter(v => !p.yTicks.includes(v));
  const yMinorAxis = g.append("g").attr("transform", `translate(${p.xLeft},0)`)
    .call(d3.axisLeft(y).tickValues(yMinor).tickSize(9).tickFormat(""));
  const yMajorAxis = g.append("g").attr("transform", `translate(${p.xLeft},0)`)
    .call(d3.axisLeft(y).tickValues(p.yTicks).tickSize(17).tickPadding(4).tickFormat(yLabel));
  [yMinorAxis, yMajorAxis].forEach(a => {
    a.select(".domain").remove();
    a.selectAll(".tick line").attr("stroke", "#555").attr("stroke-width", 1.2);
  });
  yMajorAxis.selectAll(".tick text")
    .attr("fill", "#4a4a4a").attr("font-family", labelFont).attr("font-weight", "bold")
    .attr("font-size", 10.5).attr("x", -21)
    .attr("textLength", d => labelWidth[yLabel(d)] || 26)
    .attr("lengthAdjust", "spacingAndGlyphs");
  g.append("text")
    .attr("x", p.xLeft - 21).attr("y", y(p.absAt)).attr("dy", "0.35em")
    .attr("text-anchor", "end").attr("fill", "#4a4a4a")
    .attr("font-family", labelFont).attr("font-weight", "bold").attr("font-size", 10.5)
    .attr("textLength", labelWidth["Abs"]).attr("lengthAdjust", "spacingAndGlyphs")
    .text("Abs");

  // x axis: minor and major ticks with labels
  const xMinor = d3.range(3900, 2000, -100).filter(v => v % 500 !== 0)
    .concat(d3.range(1950, 700, -50).filter(v => v % 250 !== 0));
  const xMinorAxis = g.append("g").attr("transform", `translate(0,${p.bottom})`)
    .call(d3.axisBottom(x).tickValues(xMinor).tickSize(4).tickFormat(""));
  const xMajorAxis = g.append("g").attr("transform", `translate(0,${p.bottom})`)
    .call(d3.axisBottom(x).tickValues(xTickValues).tickSize(7).tickFormat(d => String(d)));
  [xMinorAxis, xMajorAxis].forEach(a => {
    a.select(".domain").remove();
    a.selectAll(".tick line").attr("stroke", "#555").attr("stroke-width", 1.4);
  });
  xMajorAxis.selectAll(".tick text")
    .attr("y", 17).attr("dy", null)
    .attr("fill", "#4a4a4a").attr("font-family", labelFont).attr("font-weight", "bold")
    .attr("font-size", 10.5)
    .attr("textLength", d => String(d).length * 10.3)
    .attr("lengthAdjust", "spacingAndGlyphs");
  g.append("text")
    .attr("x", p.xRight).attr("y", p.bottom + p.unitDy)
    .attr("text-anchor", "end").attr("fill", "#4a4a4a")
    .attr("font-family", labelFont).attr("font-weight", "bold").attr("font-size", 8.5)
    .attr("textLength", 36).attr("lengthAdjust", "spacingAndGlyphs")
    .text("1/cm");

  // legend
  p.legend.forEach((t, i) => {
    g.append("text")
      .attr("x", p.legendX).attr("y", p.legendY[i])
      .attr("fill", seriesColors[i])
      .attr("font-family", labelFont).attr("font-size", p.legendSize)
      .attr("textLength", p.legendW).attr("lengthAdjust", "spacingAndGlyphs")
      .text(t);
  });

  // title
  g.append("text")
    .attr("x", p.titleX).attr("y", p.titleY).attr("fill", "#000")
    .attr("font-family", labelFont).attr("font-size", 16)
    .attr("textLength", p.titleW).attr("lengthAdjust", "spacingAndGlyphs")
    .text(titleText);
  g.append("text")
    .attr("x", p.subX).attr("y", p.subY).attr("text-anchor", "middle").attr("fill", "#000")
    .attr("font-family", labelFont).attr("font-size", 16)
    .attr("textLength", p.subW).attr("lengthAdjust", "spacingAndGlyphs")
    .text(subtitles[p.id - 1]);

  // instrument mark
  const L = p.logo;
  const lg = g.append("g");
  lg.append("rect").attr("x", L.x).attr("y", L.y).attr("width", 27).attr("height", L.h)
    .attr("fill", "#1a1a1a").attr("rx", 1);
  const cx = L.x + 13.5, cy = L.y + L.h / 2, r = L.h / 2 - 2;
  lg.append("circle").attr("cx", cx).attr("cy", cy).attr("r", r)
    .attr("fill", "#e8e8e8");
  lg.append("circle").attr("cx", cx).attr("cy", cy).attr("r", r - 1.6)
    .attr("fill", "none").attr("stroke", "#1a1a1a").attr("stroke-width", 1.2);
  lg.append("line").attr("x1", cx - r + 1.5).attr("x2", cx + r - 1.5).attr("y1", cy).attr("y2", cy)
    .attr("stroke", "#1a1a1a").attr("stroke-width", 1.4);
  lg.append("line").attr("x1", cx).attr("x2", cx).attr("y1", cy - r + 1.5).attr("y2", cy + r - 1.5)
    .attr("stroke", "#1a1a1a").attr("stroke-width", 1.4);
  lg.append("text").attr("x", L.tx).attr("y", L.ty).attr("fill", "#1a1a1a")
    .attr("font-family", labelFont).attr("font-weight", "bold").attr("font-size", 18)
    .attr("textLength", L.tw).attr("lengthAdjust", "spacingAndGlyphs")
    .text("SHIMADZU");
}

panels.forEach(drawPanel);
</script>
</body>
</html>
